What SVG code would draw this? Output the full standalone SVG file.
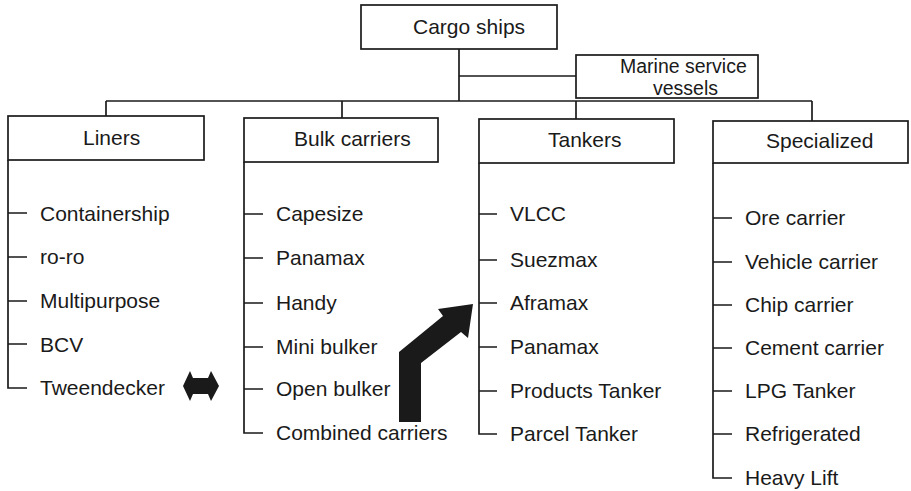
<svg xmlns="http://www.w3.org/2000/svg" width="911" height="491" viewBox="0 0 911 491">
<style>
.box{fill:#fff;stroke:#1a1a1a;stroke-width:1.7}
.ln{fill:none;stroke:#1a1a1a;stroke-width:1.7}
text{font-family:"Liberation Sans",Arial,sans-serif;font-size:21px;fill:#1a1a1a}
.tight{font-size:19.5px}
.shape{fill:#1a1a1a;stroke:none}
</style>
<rect width="911" height="491" fill="#fff"/>
<g id="connectors">
<path class="ln" d="M459,49 V101"/>
<path class="ln" d="M459,76 H576"/>
<path class="ln" d="M106,101 H812"/>
<path class="ln" d="M106,101 V116"/>
<path class="ln" d="M342,101 V118"/>
<path class="ln" d="M576,101 V119"/>
<path class="ln" d="M812,101 V121"/>
<path class="ln" d="M8,160 V388 H27 M8,213 H27 M8,257 H27 M8,301 H27 M8,344 H27"/>
<path class="ln" d="M244,162 V433 H263 M244,214 H263 M244,258 H263 M244,303 H263 M244,347 H263 M244,389 H263"/>
<path class="ln" d="M479,163 V434 H497 M479,214 H497 M479,260 H497 M479,303 H497 M479,347 H497 M479,391 H497"/>
<path class="ln" d="M713,163 V478 H732 M713,218 H732 M713,262 H732 M713,305 H732 M713,348 H732 M713,391 H732 M713,434 H732"/>
</g>
<g id="cargo-ships">
<rect class="box" x="361" y="5" width="196" height="44"/>
<text x="413" y="34">Cargo ships</text>
</g>
<g id="marine-service">
<rect class="box" x="576" y="55" width="182" height="43"/>
<text class="tight" x="620" y="73">Marine service</text>
<text class="tight" x="653" y="95">vessels</text>
</g>
<g id="liners">
<rect class="box" x="8" y="116" width="196" height="44"/>
<text x="83" y="145">Liners</text>
<text x="40" y="221">Containership</text>
<text x="40" y="264">ro-ro</text>
<text x="40" y="308">Multipurpose</text>
<text x="40" y="352">BCV</text>
<text x="40" y="395">Tweendecker</text>
</g>
<g id="bulk-carriers">
<rect class="box" x="244" y="118" width="194" height="44"/>
<text x="294" y="146">Bulk carriers</text>
<text x="276" y="221">Capesize</text>
<text x="276" y="265">Panamax</text>
<text x="276" y="310">Handy</text>
<text x="276" y="354">Mini bulker</text>
<text x="276" y="396">Open bulker</text>
<text x="276" y="440">Combined carriers</text>
</g>
<g id="tankers">
<rect class="box" x="479" y="119" width="195" height="44"/>
<text x="548" y="147">Tankers</text>
<text x="510" y="221">VLCC</text>
<text x="510" y="267">Suezmax</text>
<text x="510" y="310">Aframax</text>
<text x="510" y="354">Panamax</text>
<text x="510" y="398">Products Tanker</text>
<text x="510" y="441">Parcel Tanker</text>
</g>
<g id="specialized">
<rect class="box" x="713" y="121" width="195" height="42"/>
<text x="766" y="148">Specialized</text>
<text x="745" y="225">Ore carrier</text>
<text x="745" y="269">Vehicle carrier</text>
<text x="745" y="312">Chip carrier</text>
<text x="745" y="355">Cement carrier</text>
<text x="745" y="398">LPG Tanker</text>
<text x="745" y="441">Refrigerated</text>
<text x="745" y="485">Heavy Lift</text>
</g>
<g id="double-arrow">
<polygon class="shape" points="183,386 190,371 193,378 208,378 211,371 219,386 211,401 208,394 193,394 190,401"/>
</g>
<g id="bent-arrow">
<polygon class="shape" points="399,422 421,422 421,363 461,332 468,338 473,304 438,309 443,316 399,352"/>
</g>
</svg>
